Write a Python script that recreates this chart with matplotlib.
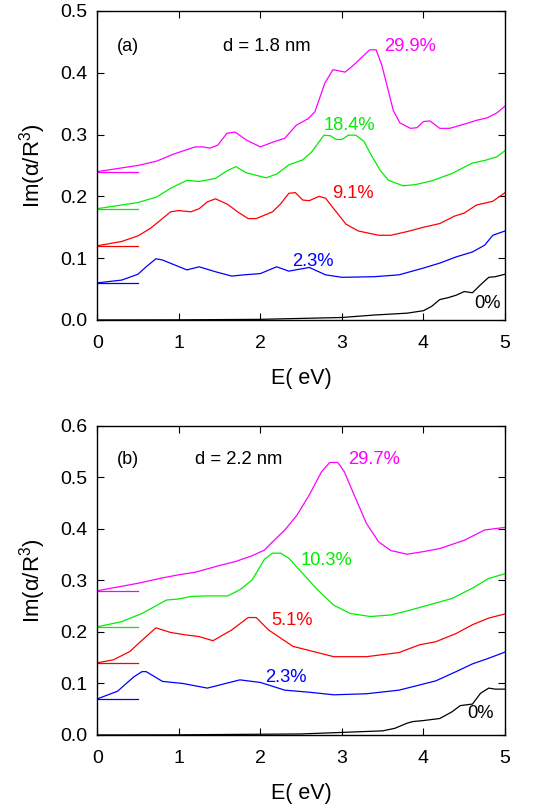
import numpy as np
import matplotlib.pyplot as plt

plt.rcParams['font.family'] = ['Liberation Sans', 'DejaVu Sans']
plt.rcParams['mathtext.fontset'] = 'custom'
plt.rcParams['mathtext.rm'] = 'Liberation Sans'
plt.rcParams['mathtext.default'] = 'regular'

# ---- panel (a): d = 1.8 nm ----
a_mag_x = [0, 0.5, 0.73, 0.93, 1.2, 1.3, 1.38, 1.48, 1.59, 1.69, 1.83, 2.0, 2.16, 2.3, 2.44, 2.59, 2.67,
           2.79, 2.89, 3.04, 3.14, 3.34, 3.42, 3.49, 3.63, 3.71, 3.84, 3.92, 4.0, 4.08, 4.2, 4.32, 4.53,
           4.65, 4.78, 4.9, 5.0]
a_mag_y = [0.24, 0.25, 0.257, 0.268, 0.28, 0.28, 0.278, 0.283, 0.302, 0.304, 0.291, 0.28, 0.288, 0.294,
           0.315, 0.326, 0.337, 0.383, 0.405, 0.401, 0.412, 0.437, 0.437, 0.412, 0.339, 0.319, 0.310,
           0.311, 0.321, 0.322, 0.31, 0.31, 0.318, 0.323, 0.327, 0.335, 0.346]

a_grn_x = [0, 0.5, 0.73, 0.9, 1.1, 1.25, 1.45, 1.6, 1.7, 1.83, 2.07, 2.2, 2.35, 2.52, 2.63, 2.78, 2.86,
           2.93, 3.0, 3.08, 3.17, 3.27, 3.35, 3.47, 3.57, 3.75, 3.9, 4.1, 4.35, 4.6, 4.75, 4.9, 5.0]
a_grn_y = [0.18, 0.19, 0.199, 0.213, 0.226, 0.224, 0.229, 0.242, 0.248, 0.238, 0.230, 0.236, 0.251,
           0.259, 0.272, 0.299, 0.298, 0.292, 0.292, 0.299, 0.299, 0.289, 0.269, 0.242, 0.226, 0.217,
           0.219, 0.225, 0.237, 0.254, 0.258, 0.264, 0.274]

a_red_x = [0, 0.3, 0.5, 0.65, 0.8, 0.9, 1.0, 1.15, 1.25, 1.35, 1.45, 1.6, 1.72, 1.85, 1.95, 2.15, 2.25,
           2.35, 2.43, 2.52, 2.6, 2.72, 2.8, 2.9, 3.05, 3.2, 3.45, 3.6, 3.8, 4.0, 4.2, 4.38, 4.5, 4.65,
           4.85, 5.0]
a_red_y = [0.12, 0.127, 0.136, 0.148, 0.164, 0.175, 0.177, 0.175, 0.18, 0.191, 0.196, 0.187, 0.175,
           0.164, 0.164, 0.175, 0.188, 0.205, 0.206, 0.194, 0.193, 0.2, 0.197, 0.18, 0.155, 0.144,
           0.137, 0.137, 0.143, 0.15, 0.156, 0.168, 0.173, 0.186, 0.192, 0.206]

a_blu_x = [0, 0.3, 0.5, 0.6, 0.72, 0.8, 1.1, 1.25, 1.45, 1.65, 1.8, 2.0, 2.2, 2.35, 2.6, 2.8, 3.0, 3.4,
           3.7, 4.0, 4.2, 4.4, 4.6, 4.75, 4.85, 5.0]
a_blu_y = [0.06, 0.0645, 0.074, 0.086, 0.099, 0.097, 0.081, 0.086, 0.078, 0.071, 0.073, 0.075, 0.086,
           0.079, 0.085, 0.073, 0.069, 0.07, 0.073, 0.084, 0.092, 0.102, 0.11, 0.121, 0.137, 0.144]

a_blk_x = [0, 1.0, 2.0, 3.0, 3.4, 3.8, 4.0, 4.1, 4.2, 4.3, 4.4, 4.5, 4.6, 4.7, 4.8, 4.88, 5.0]
a_blk_y = [0, 0.0002, 0.001, 0.004, 0.008, 0.011, 0.015, 0.022, 0.033, 0.036, 0.04, 0.046, 0.044,
           0.057, 0.069, 0.07, 0.074]

a_offsets = [0.24, 0.18, 0.12, 0.06]

# ---- panel (b): d = 2.2 nm ----
b_mag_x = [0, 0.5, 0.8, 1.0, 1.2, 1.5, 1.7, 1.9, 2.05, 2.15, 2.3, 2.45, 2.6, 2.75, 2.85, 2.95, 3.03,
           3.15, 3.3, 3.45, 3.6, 3.8, 4.0, 4.2, 4.5, 4.75, 5.0]
b_mag_y = [0.28, 0.2945, 0.305, 0.311, 0.316, 0.329, 0.337, 0.348, 0.359, 0.375, 0.398, 0.427, 0.466,
           0.511, 0.529, 0.529, 0.511, 0.466, 0.411, 0.375, 0.358, 0.351, 0.356, 0.362, 0.378,
           0.398, 0.403]

b_grn_x = [0, 0.3, 0.55, 0.85, 1.0, 1.15, 1.35, 1.6, 1.75, 1.9, 2.05, 2.15, 2.25, 2.35, 2.5, 2.7, 2.9,
           3.1, 3.35, 3.6, 3.85, 4.1, 4.35, 4.6, 4.8, 5.0]
b_grn_y = [0.21, 0.22, 0.236, 0.262, 0.264, 0.269, 0.27, 0.27, 0.282, 0.301, 0.341, 0.353, 0.353,
           0.343, 0.317, 0.282, 0.252, 0.236, 0.23, 0.233, 0.243, 0.254, 0.265, 0.285, 0.304, 0.313]

b_red_x = [0, 0.2, 0.4, 0.55, 0.72, 0.9, 1.1, 1.25, 1.42, 1.65, 1.85, 1.95, 2.1, 2.4, 2.6, 2.9, 3.3,
           3.7, 3.95, 4.15, 4.4, 4.6, 4.8, 5.0]
b_red_y = [0.14, 0.146, 0.162, 0.184, 0.208, 0.199, 0.194, 0.191, 0.183, 0.204, 0.228, 0.228, 0.204,
           0.172, 0.164, 0.152, 0.152, 0.16, 0.175, 0.181, 0.197, 0.214, 0.227, 0.235]

b_blu_x = [0, 0.25, 0.45, 0.55, 0.6, 0.8, 1.05, 1.35, 1.55, 1.75, 2.0, 2.3, 2.6, 2.9, 3.3, 3.7, 3.95,
           4.15, 4.4, 4.6, 4.8, 5.0]
b_blu_y = [0.07, 0.085, 0.113, 0.123, 0.123, 0.104, 0.1, 0.091, 0.099, 0.107, 0.102, 0.087, 0.083,
           0.078, 0.08, 0.087, 0.097, 0.105, 0.123, 0.138, 0.149, 0.161]

b_blk_x = [0, 1.0, 2.5, 3.0, 3.5, 3.65, 3.8, 3.87, 4.0, 4.2, 4.35, 4.45, 4.6, 4.7, 4.8, 4.88, 5.0]
b_blk_y = [0, 0.0003, 0.002, 0.005, 0.008, 0.013, 0.023, 0.026, 0.028, 0.032, 0.045, 0.057, 0.06,
           0.081, 0.091, 0.089, 0.089]

b_offsets = [0.28, 0.21, 0.14, 0.07]

colors = ['#ff00ff', '#00ee00', '#ff0000', '#0000ff', '#000000']

a_labels = ['29.9%', '18.4%', '9.1%', '2.3%', '0%']
a_label_pos = [(3.83, 0.443), (3.09, 0.314), (3.13, 0.205), (2.64, 0.094), (4.78, 0.026)]
b_labels = ['29.7%', '10.3%', '5.1%', '2.3%', '0%']
b_label_pos = [(3.39, 0.535), (2.81, 0.338), (2.39, 0.223), (2.31, 0.112), (4.70, 0.041)]


def draw_panel(ax, curves, offsets, labels, label_pos, tag, title, title_x, ymax):
    for (x, y), c in zip(curves, colors):
        ax.plot(x, y, color=c, lw=0.9)
    for off, c in zip(offsets, colors):
        ax.plot([0, 0.5], [off, off], color=c, lw=0.9)
    for lab, (px, py), c in zip(labels, label_pos, colors):
        ax.text(px, py, lab, color=c, fontsize=13.2, ha='center', va='center')
    ax.text(0.38, label_pos[0][1], tag, fontsize=13, ha='center', va='center')
    ax.text(title_x, label_pos[0][1], title, fontsize=13.3, ha='center', va='center')
    ax.set_xlim(0, 5)
    ax.set_ylim(0, ymax)
    ax.set_xticks(np.arange(0, 6, 1))
    ax.set_yticks(np.arange(0, ymax + 0.001, 0.1))
    ax.set_yticklabels(['%.1f' % v for v in np.arange(0, ymax + 0.001, 0.1)])
    ax.tick_params(direction='in', top=True, right=True, length=5, width=0.8, labelsize=14)
    ax.tick_params(axis='x', pad=10.5)
    ax.tick_params(axis='y', pad=7)
    ax.set_xlabel('E( eV)', fontsize=15.5, labelpad=12)
    ax.set_ylabel('Im(α/R$^3$)', fontsize=16, labelpad=9)
    for s in ax.spines.values():
        s.set_linewidth(1.0)


fig = plt.figure(figsize=(5.46, 8.09), dpi=100)
ax1 = fig.add_axes([0.178, 0.6045, 0.747, 0.382])
ax2 = fig.add_axes([0.178, 0.0915, 0.747, 0.382])

draw_panel(ax1, [(a_mag_x, a_mag_y), (a_grn_x, a_grn_y), (a_red_x, a_red_y),
                 (a_blu_x, a_blu_y), (a_blk_x, a_blk_y)],
           a_offsets, a_labels, a_label_pos, '(a)', 'd = 1.8 nm', 2.08, 0.5)
draw_panel(ax2, [(b_mag_x, b_mag_y), (b_grn_x, b_grn_y), (b_red_x, b_red_y),
                 (b_blu_x, b_blu_y), (b_blk_x, b_blk_y)],
           b_offsets, b_labels, b_label_pos, '(b)', 'd = 2.2 nm', 1.73, 0.6)

fig.savefig('out.png', dpi=100)
